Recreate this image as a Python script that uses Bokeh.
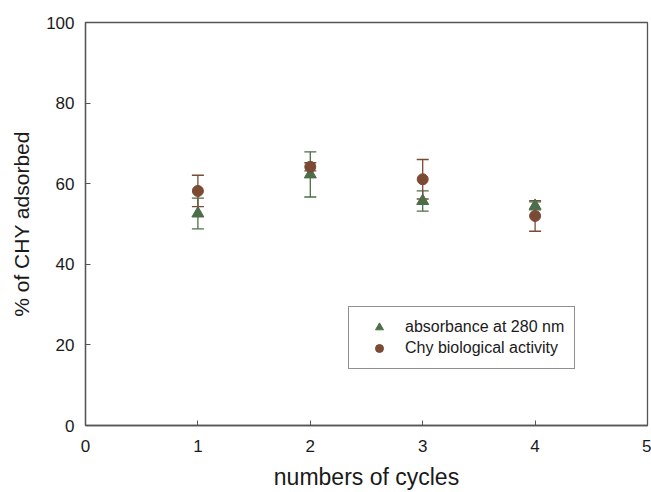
from bokeh.plotting import figure
from bokeh.models import ColumnDataSource, Whisker, TeeHead, Legend, LegendItem, FixedTicker
from bokeh.embed import file_html
from bokeh.resources import INLINE

cycles = [1, 2, 3, 4]
absorbance = [52.6, 62.3, 55.7, 54.5]
absorbance_err = [3.8, 5.6, 2.5, 1.0]
activity = [58.2, 64.2, 61.1, 52.0]
activity_err = [3.9, 1.0, 4.9, 3.8]

green = "#4C6E49"
brown = "#7A4A35"

src_a = ColumnDataSource(dict(x=cycles, y=absorbance,
                              lo=[v - e for v, e in zip(absorbance, absorbance_err)],
                              hi=[v + e for v, e in zip(absorbance, absorbance_err)]))
src_b = ColumnDataSource(dict(x=cycles, y=activity,
                              lo=[v - e for v, e in zip(activity, activity_err)],
                              hi=[v + e for v, e in zip(activity, activity_err)]))

p = figure(width=651, height=492, x_range=(0, 5), y_range=(0, 100),
           output_backend="svg", toolbar_location=None,
           min_border_left=85, min_border_right=4, min_border_top=22, min_border_bottom=66)
p.xgrid.visible = False
p.ygrid.visible = False
p.outline_line_color = "#555555"
p.outline_line_width = 1.3
p.background_fill_color = "white"
p.border_fill_color = "white"

for ax in (p.xaxis[0], p.yaxis[0]):
    ax.axis_line_color = "#555555"
    ax.axis_line_width = 1.3
    ax.major_tick_line_color = "#555555"
    ax.major_tick_in = 5
    ax.major_tick_out = 0
    ax.minor_tick_line_color = None
    ax.major_label_text_font = "Liberation Sans"
    ax.major_label_text_font_size = "17px"
    ax.major_label_text_color = "#1a1a1a"
    ax.axis_label_text_font = "Liberation Sans"
    ax.axis_label_text_font_style = "normal"
    ax.axis_label_text_color = "#1a1a1a"

p.xaxis.ticker = FixedTicker(ticks=[0, 1, 2, 3, 4, 5])
p.yaxis.ticker = FixedTicker(ticks=[0, 20, 40, 60, 80, 100])
p.xaxis.axis_label = "numbers of cycles"
p.yaxis.axis_label = "% of CHY adsorbed"
p.xaxis.major_label_standoff = 14
p.yaxis.major_label_standoff = 11
p.xaxis.axis_label_text_font_size = "23px"
p.yaxis.axis_label_text_font_size = "21px"
p.xaxis.axis_label_standoff = 9
p.yaxis.axis_label_standoff = 10

wa = Whisker(source=src_a, base="x", lower="lo", upper="hi", line_color=green, line_width=1.3,
             upper_head=TeeHead(size=12, line_color=green, line_width=1.3),
             lower_head=TeeHead(size=12, line_color=green, line_width=1.3))
wb = Whisker(source=src_b, base="x", lower="lo", upper="hi", line_color=brown, line_width=1.3,
             upper_head=TeeHead(size=12, line_color=brown, line_width=1.3),
             lower_head=TeeHead(size=12, line_color=brown, line_width=1.3))
p.add_layout(wa)
p.add_layout(wb)

ra = p.scatter("x", "y", source=src_a, marker="triangle", size=12, fill_color=green, line_color=green)
rb = p.scatter("x", "y", source=src_b, marker="circle", size=11, fill_color=brown, line_color=brown)

legend = Legend(items=[LegendItem(label="absorbance at 280 nm", renderers=[ra]),
                       LegendItem(label="Chy biological activity", renderers=[rb])],
                location=(263, 56), orientation="vertical")
legend.label_text_font = "Liberation Sans"
legend.label_text_font_size = "16px"
legend.label_text_color = "#1a1a1a"
legend.glyph_width = 40
legend.glyph_height = 20
legend.label_height = 20
legend.label_standoff = 6
legend.padding = 10
legend.spacing = 1
legend.margin = 0
legend.border_line_color = "#222222"
legend.border_line_width = 1.5
legend.background_fill_alpha = 1.0
p.add_layout(legend, "center")

open("out.html", "w").write(file_html(p, INLINE))
